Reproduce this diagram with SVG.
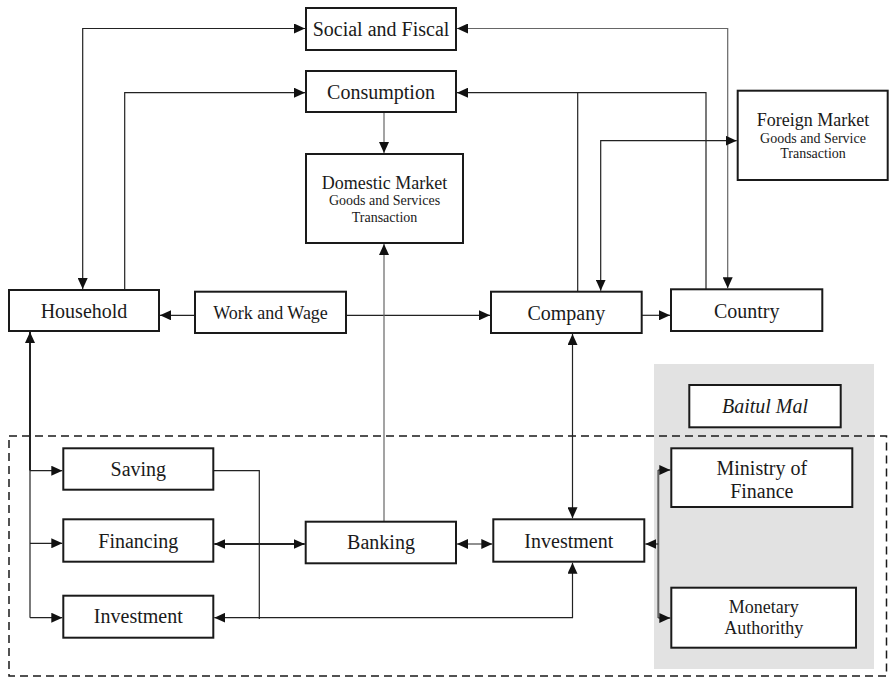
<svg xmlns="http://www.w3.org/2000/svg" width="889" height="677" viewBox="0 0 889 677">
  <style>
    .box { fill: #ffffff; stroke: #1a1a1a; stroke-width: 2; }
    .lbl { font-family: "Liberation Serif", "Times New Roman", serif; fill: #1a1a1a; text-anchor: middle; }
    .l20 { font-size: 20px; }
    .l18 { font-size: 18px; }
    .l14 { font-size: 14px; }
    .it { font-style: italic; }
    .wire { fill: none; stroke: #222; stroke-width: 1.2; }
    .heavy { stroke-width: 2; }
    .grey { stroke: #666; }
  </style>
  <defs>
    <marker id="head" markerUnits="userSpaceOnUse" markerWidth="12" markerHeight="10" refX="11" refY="5" orient="auto-start-reverse">
      <path d="M0,0 L11,5 L0,10 z" fill="#111"/>
    </marker>
  </defs>

  <!-- Baitul Mal shaded area -->
  <rect id="baitul-mal-area" x="654" y="364" width="220" height="305" fill="#e2e2e2"/>

  <!-- Financial sector boundary -->
  <rect id="financial-sector" x="9" y="436" width="877.5" height="240" fill="none" stroke="#1a1a1a" stroke-width="1.5" stroke-dasharray="8 5"/>

  <g id="connectors">
    <!-- Household <-> Social and Fiscal -->
    <path class="wire" d="M82.7,289 V28.5 H305" marker-start="url(#head)" marker-end="url(#head)"/>
    <!-- Household -> Consumption -->
    <path class="wire" d="M124.7,290 V92.7 H305" marker-end="url(#head)"/>
    <!-- Consumption -> Domestic Market -->
    <path class="wire grey" d="M384,112 V153" marker-end="url(#head)"/>
    <!-- Company / Country -> Consumption -->
    <path class="wire" d="M706,289.3 V92.7 H457" marker-end="url(#head)"/>
    <path class="wire" d="M577.7,291.7 V92.7"/>
    <!-- Social and Fiscal <-> Country -->
    <path class="wire grey" d="M457,28.5 H727.7 V288.3" marker-start="url(#head)" marker-end="url(#head)"/>
    <!-- Foreign Market <-> Company -->
    <path class="wire" d="M600.7,290.7 V140.7 H736.7" marker-start="url(#head)" marker-end="url(#head)"/>
    <!-- Work and Wage -> Household, Company -->
    <path class="wire" d="M195,315.3 H160" marker-end="url(#head)"/>
    <path class="wire" d="M346,315.3 H490" marker-end="url(#head)"/>
    <!-- Company -> Country -->
    <path class="wire" d="M641.7,315.3 H670" marker-end="url(#head)"/>
    <!-- Banking -> Domestic Market -->
    <path class="wire grey" d="M384,521.7 V244" marker-end="url(#head)"/>
    <!-- Household <-> financial products -->
    <path class="wire heavy" d="M30,332 V470.7" marker-start="url(#head)"/>
    <path class="wire" d="M30,470.7 V617.7"/>
    <path class="wire" d="M30,470.7 H62.3" marker-end="url(#head)"/>
    <path class="wire" d="M30,543.3 H62.3" marker-end="url(#head)"/>
    <path class="wire" d="M30,617.7 H62.3" marker-end="url(#head)"/>
    <!-- Saving -> Investment line -->
    <path class="wire" d="M213.3,470.7 H259.3 V619"/>
    <!-- Financing <-> Banking -->
    <path class="wire heavy" d="M214.3,544 H304.7" marker-start="url(#head)" marker-end="url(#head)"/>
    <!-- Investment (right) <-> Investment (left) -->
    <path class="wire" d="M572.5,562.7 V617.7 H214.3" marker-start="url(#head)" marker-end="url(#head)"/>
    <!-- Banking <-> Investment -->
    <path class="wire" d="M457,544 H492.3" marker-start="url(#head)" marker-end="url(#head)"/>
    <!-- Company <-> Investment -->
    <path class="wire" d="M572.5,334 V518.3" marker-start="url(#head)" marker-end="url(#head)"/>
    <!-- Investment <-> Ministry of Finance / Monetary Authority -->
    <path class="wire heavy grey" d="M658.3,470 V618"/>
    <path class="wire" d="M658.3,544 H645.3" marker-end="url(#head)"/>
    <path class="wire" d="M658.3,470 H670.3" marker-end="url(#head)"/>
    <path class="wire" d="M658.3,618 H670.3" marker-end="url(#head)"/>
  </g>

  <g id="social-fiscal">
    <rect class="box" x="306" y="8" width="150" height="42"/>
    <text class="lbl l20" x="381" y="35.5">Social and Fiscal</text>
  </g>
  <g id="consumption">
    <rect class="box" x="306" y="71" width="150" height="41"/>
    <text class="lbl l20" x="381" y="99">Consumption</text>
  </g>
  <g id="domestic-market">
    <rect class="box" x="306" y="154" width="157" height="89"/>
    <text class="lbl l18" x="384.5" y="189">Domestic Market</text>
    <text class="lbl l14" x="384.5" y="205">Goods and Services</text>
    <text class="lbl l14" x="384.5" y="222">Transaction</text>
  </g>
  <g id="foreign-market">
    <rect class="box" x="737.7" y="90.7" width="150" height="89.3"/>
    <text class="lbl l18" x="813" y="126">Foreign Market</text>
    <text class="lbl l14" x="813" y="142.5">Goods and Service</text>
    <text class="lbl l14" x="813" y="158">Transaction</text>
  </g>
  <g id="household">
    <rect class="box" x="9" y="290" width="150" height="41"/>
    <text class="lbl l20" x="84" y="318">Household</text>
  </g>
  <g id="work-wage">
    <rect class="box" x="195" y="291.7" width="151" height="41.3"/>
    <text class="lbl l18" x="270.5" y="318.5">Work and Wage</text>
  </g>
  <g id="company">
    <rect class="box" x="491" y="291.7" width="150.7" height="41.3"/>
    <text class="lbl l20" x="566.3" y="320">Company</text>
  </g>
  <g id="country">
    <rect class="box" x="671" y="289.3" width="151.3" height="41.7"/>
    <text class="lbl l20" x="746.7" y="318">Country</text>
  </g>
  <g id="baitul-mal">
    <rect class="box" x="689.3" y="385" width="151.4" height="42.3"/>
    <text class="lbl l20 it" x="765" y="413.3">Baitul Mal</text>
  </g>
  <g id="saving">
    <rect class="box" x="63.3" y="448.3" width="150" height="41.4"/>
    <text class="lbl l20" x="138.3" y="475.5">Saving</text>
  </g>
  <g id="financing">
    <rect class="box" x="63.3" y="519.3" width="150" height="42.4"/>
    <text class="lbl l20" x="138.3" y="548.3">Financing</text>
  </g>
  <g id="investment-household">
    <rect class="box" x="63.3" y="595.7" width="150" height="42"/>
    <text class="lbl l20" x="138.3" y="623.3">Investment</text>
  </g>
  <g id="banking">
    <rect class="box" x="305.7" y="521.7" width="150.3" height="41.6"/>
    <text class="lbl l20" x="381" y="549.3">Banking</text>
  </g>
  <g id="investment">
    <rect class="box" x="493.3" y="519.3" width="151" height="42.4"/>
    <text class="lbl l20" x="568.8" y="547.7">Investment</text>
  </g>
  <g id="ministry-finance">
    <rect class="box" x="671.3" y="448.3" width="181" height="58.7"/>
    <text class="lbl l20" x="761.8" y="475">Ministry of</text>
    <text class="lbl l20" x="761.8" y="497.7">Finance</text>
  </g>
  <g id="monetary-authority">
    <rect class="box" x="671.3" y="587.7" width="184.7" height="60"/>
    <text class="lbl l18" x="763.7" y="613.3">Monetary</text>
    <text class="lbl l18" x="763.7" y="634.3">Authorithy</text>
  </g>
</svg>
